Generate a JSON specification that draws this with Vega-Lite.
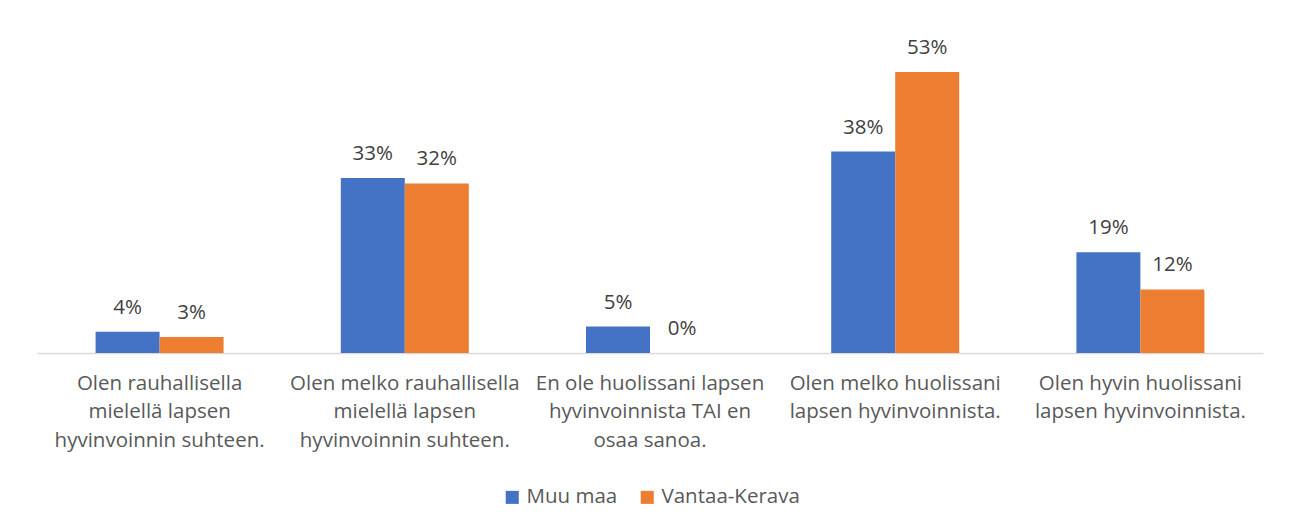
{
  "$schema": "https://vega.github.io/schema/vega-lite/v6.json",
  "width": 1226,
  "height": 318,
  "padding": {"left": 37, "top": 35, "right": 28, "bottom": 10},
  "background": "white",
  "config": {
    "view": {"stroke": null},
    "font": "Open Sans",
    "text": {"font": "Open Sans"}
  },
  "data": {
    "values": [
      {"category": "Olen rauhallisella\nmielellä lapsen\nhyvinvoinnin suhteen.", "series": "Muu maa", "value": 4},
      {"category": "Olen rauhallisella\nmielellä lapsen\nhyvinvoinnin suhteen.", "series": "Vantaa-Kerava", "value": 3},
      {"category": "Olen melko rauhallisella\nmielellä lapsen\nhyvinvoinnin suhteen.", "series": "Muu maa", "value": 33},
      {"category": "Olen melko rauhallisella\nmielellä lapsen\nhyvinvoinnin suhteen.", "series": "Vantaa-Kerava", "value": 32},
      {"category": "En ole huolissani lapsen\nhyvinvoinnista TAI en\nosaa sanoa.", "series": "Muu maa", "value": 5},
      {"category": "En ole huolissani lapsen\nhyvinvoinnista TAI en\nosaa sanoa.", "series": "Vantaa-Kerava", "value": 0},
      {"category": "Olen melko huolissani\nlapsen hyvinvoinnista.", "series": "Muu maa", "value": 38},
      {"category": "Olen melko huolissani\nlapsen hyvinvoinnista.", "series": "Vantaa-Kerava", "value": 53},
      {"category": "Olen hyvin huolissani\nlapsen hyvinvoinnista.", "series": "Muu maa", "value": 19},
      {"category": "Olen hyvin huolissani\nlapsen hyvinvoinnista.", "series": "Vantaa-Kerava", "value": 12}
    ]
  },
  "encoding": {
    "x": {
      "field": "category",
      "type": "nominal",
      "sort": null,
      "scale": {"paddingInner": 0.478, "paddingOuter": 0.239},
      "axis": {
        "title": null,
        "labelAngle": 0,
        "labelExpr": "split(datum.label, '\\n')",
        "labelFont": "Open Sans",
        "labelFontSize": 20.5,
        "labelColor": "#595959",
        "labelLineHeight": 28.5,
        "labelPadding": 20,
        "labelBaseline": "top",
        "ticks": false,
        "domainColor": "#d9d9d9",
        "domainWidth": 1.3,
        "labelLimit": 400
      }
    },
    "xOffset": {"field": "series", "type": "nominal", "sort": ["Muu maa", "Vantaa-Kerava"]},
    "y": {
      "field": "value",
      "type": "quantitative",
      "scale": {"domain": [0, 60]},
      "axis": null
    }
  },
  "layer": [
    {
      "mark": {"type": "bar"},
      "encoding": {
        "color": {
          "field": "series",
          "type": "nominal",
          "scale": {"domain": ["Muu maa", "Vantaa-Kerava"], "range": ["#4472C4", "#ED7D31"]},
          "legend": {
            "title": null,
            "orient": "none",
            "legendX": 465,
            "legendY": 452,
            "direction": "horizontal",
            "symbolType": "square",
            "symbolSize": 170,
            "symbolStrokeWidth": 0,
            "labelFont": "Open Sans",
            "labelFontSize": 20.5,
            "labelColor": "#595959",
            "columnPadding": 19
          }
        }
      }
    },
    {
      "transform": [{"calculate": "datum.value + '%'", "as": "lbl"}],
      "mark": {"type": "text", "baseline": "bottom", "dy": -14, "fontSize": 20.5, "color": "#404040", "font": "Open Sans"},
      "encoding": {
        "text": {"field": "lbl", "type": "nominal"},
        "detail": {"field": "series"}
      }
    }
  ]
}
